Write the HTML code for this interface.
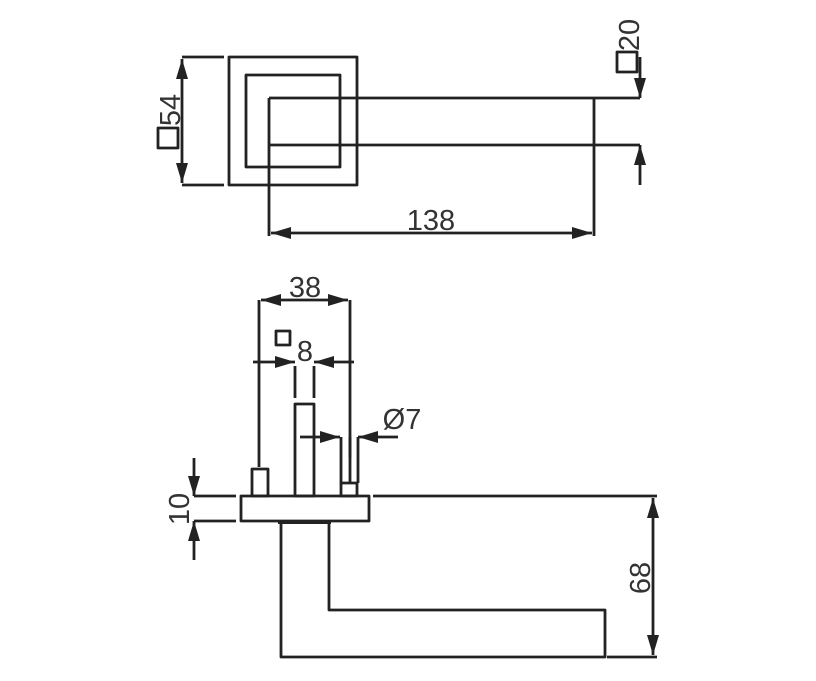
<!DOCTYPE html>
<html><head><style>body{margin:0;background:#fff}svg{display:block}</style></head><body>
<svg width="816" height="681" viewBox="0 0 816 681" xmlns="http://www.w3.org/2000/svg">
<defs>
<marker id="a" viewBox="0 0 20 12" refX="20" refY="6" markerWidth="20" markerHeight="12" markerUnits="userSpaceOnUse" orient="auto-start-reverse"><path d="M0,0 L20,6 L0,12 z" fill="#222"/></marker>
</defs>
<g fill="none" stroke="#222" stroke-width="2.8" stroke-linejoin="round">
<rect x="229" y="57" width="128" height="128"/>
<rect x="246" y="75" width="94" height="92"/>
<path d="M269 98 H640 M269 145 H640 M269 98 V236 M594 98 V236"/>
<path d="M271 233 H592" marker-start="url(#a)" marker-end="url(#a)"/>
<path d="M182 59 V183" marker-start="url(#a)" marker-end="url(#a)"/>
<path d="M182 57 H224 M182 185 H224"/>
<rect x="158" y="128" width="20" height="20"/>
<path d="M640 57 V98" marker-end="url(#a)"/>
<path d="M640 185 V145" marker-end="url(#a)"/>
<rect x="617" y="52" width="20" height="20"/>
<path d="M261 300 H348" marker-start="url(#a)" marker-end="url(#a)"/>
<path d="M259 300 V467 M350 300 V458"/>
<path d="M253 362 H295" marker-end="url(#a)"/>
<path d="M354 362 H314" marker-end="url(#a)"/>
<path d="M295 366 V398 M314 366 V398"/>
<rect x="276" y="331" width="14" height="14"/>
<rect x="295" y="404" width="19" height="92"/>
<path d="M300 437 H340" marker-end="url(#a)"/>
<path d="M398 437 H358" marker-end="url(#a)"/>
<path d="M341 437 V483 M350 437 V483 M358 437 V483"/>
<rect x="252" y="469" width="16" height="27"/>
<rect x="341" y="483" width="16" height="13"/>
<rect x="241" y="496" width="128" height="25"/>
<path d="M194 496 H236 M194 521 H236 M373 496 H657"/>
<path d="M194 458 V496" marker-end="url(#a)"/>
<path d="M194 560 V521" marker-end="url(#a)"/>
<path d="M281 522 V657 H605 V610 H329 V522"/>
<path d="M278 522 H331" stroke-width="4"/>
<path d="M653 498 V655" marker-start="url(#a)" marker-end="url(#a)"/>
<path d="M607 657 H657"/>
</g>
<g font-family="Liberation Sans, sans-serif" font-size="29" fill="#333">
<text x="431" y="230" text-anchor="middle">138</text>
<text x="305" y="297" text-anchor="middle">38</text>
<text x="305" y="361" text-anchor="middle">8</text>
<text x="402" y="429" text-anchor="middle">Ø7</text>
<text transform="translate(180,110) rotate(-90)" text-anchor="middle">54</text>
<text transform="translate(639,35) rotate(-90)" text-anchor="middle">20</text>
<text transform="translate(189,509) rotate(-90)" text-anchor="middle">10</text>
<text transform="translate(650,578) rotate(-90)" text-anchor="middle">68</text>
</g>
</svg>
</body></html>
